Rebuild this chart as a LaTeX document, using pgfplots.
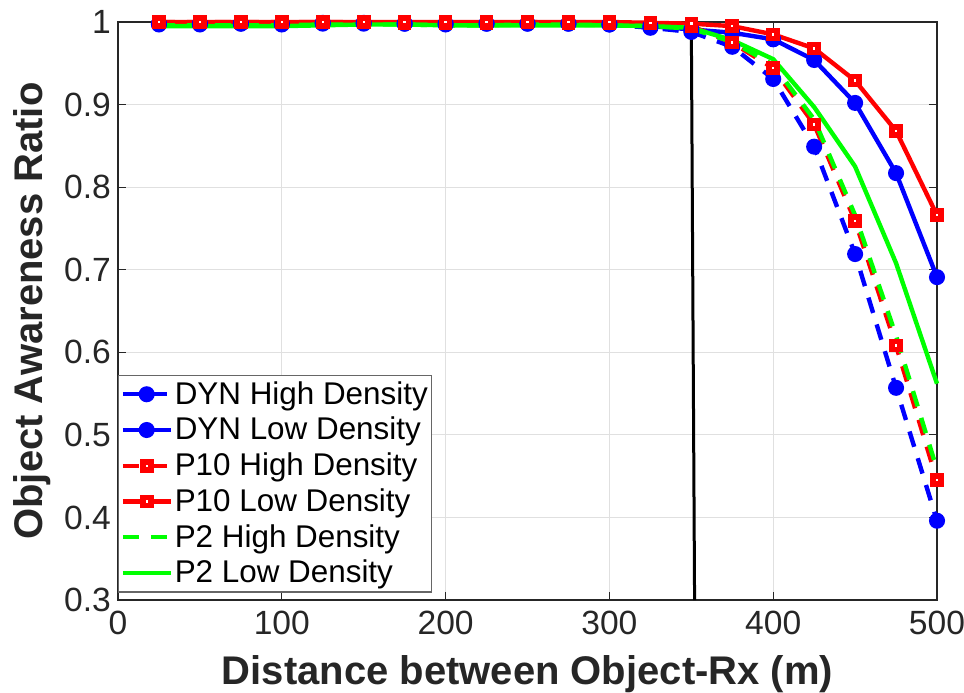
\documentclass[border=0pt]{standalone}
\usepackage{pgfplots}
\pgfplotsset{compat=1.18}
\usepackage{fontspec}
\setmainfont{Liberation Sans}
\definecolor{mblue}{RGB}{0,0,255}
\definecolor{mred}{RGB}{255,0,0}
\definecolor{mgreen}{RGB}{0,255,0}
\definecolor{mtext}{RGB}{38,38,38}
\begin{document}
\begin{tikzpicture}
\begin{axis}[
  scale only axis,
  width=409.5pt, height=289pt,
  xmin=0, xmax=500, ymin=0.3, ymax=1,
  xtick={0,100,200,300,400,500},
  ytick={0.3,0.4,0.5,0.6,0.7,0.8,0.9,1},
  yticklabels={0.3,0.4,0.5,0.6,0.7,0.8,0.9,1},
  /pgf/number format/assume math mode=true,
  tick label style={font=\fontsize{16.8}{18}\selectfont, text=mtext},
  xticklabel style={yshift=-2pt},
  xlabel={Distance between Object-Rx (m)},
  ylabel={Object Awareness Ratio},
  label style={font=\fontsize{20}{22}\selectfont\bfseries, text=mtext},
  xlabel style={at={(axis description cs:0.5,-0.147)}, anchor=base},
  ylabel style={at={(axis description cs:-0.0916,0.5)}, anchor=base},
  tick align=inside,
  major tick length=4pt,
  axis line style={line width=0.75pt, mtext},
  every tick/.style={line width=0.6pt, mtext},
  grid=major,
  major grid style={line width=0.5pt, black!12},
  clip=false,
  legend style={at={(0,0.013)}, anchor=south west, draw=black!60, line width=0.6pt,
    font=\fontsize{15.7}{17}\selectfont, row sep=1pt, inner sep=1pt,
    nodes={inner xsep=1pt},
    cells={anchor=west}},
  legend image code/.code={\draw[mark repeat=2,mark phase=2] plot coordinates {(0cm,0cm) (0.42cm,0cm) (0.84cm,0cm)};},
]
\addplot[mblue, line width=2.2pt, dash pattern=on 8pt off 6pt, mark=*, mark size=2.9pt, mark options={solid, fill=mblue}] coordinates {
(25,0.997)(50,0.997)(75,0.998)(100,0.997)(125,0.998)(150,0.998)(175,0.998)(200,0.997)(225,0.998)(250,0.998)(275,0.998)(300,0.997)(325,0.993)(350,0.988)(375,0.970)(400,0.931)(425,0.849)(450,0.719)(475,0.557)(500,0.396)};
\addlegendentry{DYN High Density}
\addplot[mblue, line width=2.2pt, mark=*, mark size=2.9pt, mark options={solid, fill=mblue}] coordinates {
(25,0.998)(50,0.998)(75,0.998)(100,0.998)(125,0.999)(150,0.999)(175,0.998)(200,0.998)(225,0.998)(250,0.998)(275,0.998)(300,0.997)(325,0.995)(350,0.991)(375,0.987)(400,0.979)(425,0.954)(450,0.902)(475,0.817)(500,0.691)};
\addlegendentry{DYN Low Density}
\addplot[mred, line width=2.2pt, dash pattern=on 8pt off 6pt, mark=square*, mark size=2pt, mark options={solid, fill=white, line width=2.8pt}] coordinates {
(25,1.000)(50,1.000)(75,1.000)(100,1.000)(125,1.000)(150,1.000)(175,0.999)(200,0.999)(225,0.999)(250,1.000)(275,0.999)(300,0.999)(325,0.998)(350,0.995)(375,0.975)(400,0.944)(425,0.876)(450,0.759)(475,0.608)(500,0.445)};
\addlegendentry{P10 High Density}
\addplot[mred, line width=2.2pt, mark=square*, mark size=2pt, mark options={solid, fill=white, line width=2.8pt}] coordinates {
(25,1.000)(50,1.000)(75,1.000)(100,1.000)(125,1.000)(150,1.000)(175,1.000)(200,1.000)(225,1.000)(250,1.000)(275,1.000)(300,1.000)(325,0.999)(350,0.998)(375,0.995)(400,0.985)(425,0.968)(450,0.929)(475,0.868)(500,0.766)};
\addlegendentry{P10 Low Density}
\addplot[mgreen, line width=2.2pt, dash pattern=on 8pt off 6pt] coordinates {
(25,0.996)(50,0.996)(75,0.996)(100,0.996)(125,0.997)(150,0.997)(175,0.997)(200,0.996)(225,0.996)(250,0.997)(275,0.997)(300,0.996)(325,0.995)(350,0.992)(375,0.976)(400,0.948)(425,0.882)(450,0.766)(475,0.620)(500,0.458)};
\addlegendentry{P2 High Density}
\addplot[mgreen, line width=2.2pt] coordinates {
(25,0.995)(50,0.995)(75,0.995)(100,0.995)(125,0.996)(150,0.997)(175,0.997)(200,0.996)(225,0.996)(250,0.996)(275,0.996)(300,0.996)(325,0.995)(350,0.993)(375,0.978)(400,0.955)(425,0.897)(450,0.825)(475,0.708)(500,0.562)};
\addlegendentry{P2 Low Density}
\addplot[black, line width=1.5pt, forget plot] coordinates {(350,1)(352,0.3)};
\end{axis}
\pgfresetboundingbox
\path ([xshift=-59pt,yshift=-46pt]current axis.south west) rectangle ([xshift=13.5pt,yshift=11pt]current axis.north east);
\end{tikzpicture}
\end{document}
